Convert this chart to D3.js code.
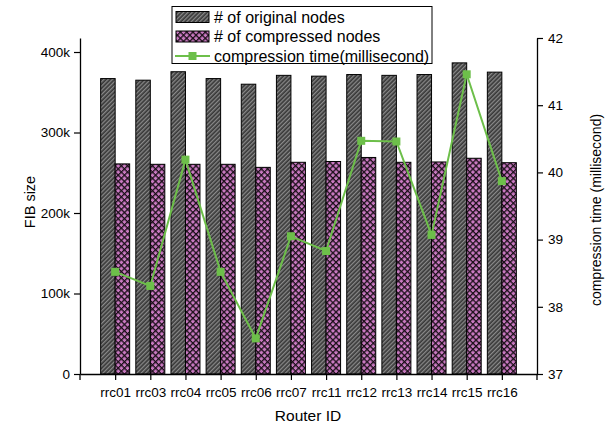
<!DOCTYPE html>
<html>
<head>
<meta charset="utf-8">
<script src="https://cdn.jsdelivr.net/npm/d3@7"></script>
<style>
  html, body { margin: 0; padding: 0; background: #fff; }
  svg { display: block; font-family: "Liberation Sans", Arial, sans-serif; }
</style>
</head>
<body>
<svg id="chart" width="606" height="428"></svg>
<script>
// Routers and measurements
const routers = ["rrc01", "rrc03", "rrc04", "rrc05", "rrc06", "rrc07", "rrc11", "rrc12", "rrc13", "rrc14", "rrc15", "rrc16"];
const originalNodes = [367000, 365000, 375500, 367000, 360000, 371000, 370000, 372000, 371000, 372000, 386500, 375000];
const compressedNodes = [261000, 260500, 260500, 260500, 256700, 263000, 264000, 269000, 263000, 263400, 268000, 262500];
const compressionTime = [38.52, 38.31, 40.19, 38.52, 37.53, 39.05, 38.83, 40.47, 40.46, 39.07, 41.46, 39.87];
const leftTicks = [0, 100000, 200000, 300000, 400000];
const rightTicks = [37, 38, 39, 40, 41, 42];

const svg = d3.select("#chart");
const plot = { left: 80, right: 537, top: 38, bottom: 374 };

// x: router position 1..12 on a 0..13 range
const x = d3.scaleLinear().domain([0, routers.length + 1]).range([plot.left, plot.right]);
const yL = d3.scaleLinear().domain([0, 417400]).range([plot.bottom, plot.top]);
const yR = d3.scaleLinear().domain([37, 42]).range([plot.bottom, plot.top]);
const barW = 14.5;

// hatch patterns
const defs = svg.append("defs");
const pg = defs.append("pattern").attr("id", "hatchGray")
  .attr("patternUnits", "userSpaceOnUse").attr("width", 3).attr("height", 3)
  .attr("patternTransform", "rotate(45)");
pg.append("rect").attr("width", 3).attr("height", 3).attr("fill", "#383838");
pg.append("rect").attr("width", 1.3).attr("height", 3).attr("fill", "#8a8a8a");

const pp = defs.append("pattern").attr("id", "hatchPink")
  .attr("patternUnits", "userSpaceOnUse").attr("width", 4.4).attr("height", 4.4)
  .attr("patternTransform", "rotate(45)");
pp.append("rect").attr("width", 4.4).attr("height", 4.4).attr("fill", "#c979c1");
pp.append("rect").attr("width", 4.4).attr("height", 1.3).attr("fill", "#1a0f18");
pp.append("rect").attr("width", 1.3).attr("height", 4.4).attr("fill", "#1a0f18");

// bars
const gBars = svg.append("g");
gBars.selectAll("rect.orig").data(originalNodes).join("rect")
  .attr("class", "orig")
  .attr("x", (d, i) => x(i + 1) - barW)
  .attr("y", d => yL(d))
  .attr("width", barW)
  .attr("height", d => yL(0) - yL(d))
  .attr("fill", "url(#hatchGray)")
  .attr("stroke", "#000").attr("stroke-width", 1);
gBars.selectAll("rect.comp").data(compressedNodes).join("rect")
  .attr("class", "comp")
  .attr("x", (d, i) => x(i + 1))
  .attr("y", d => yL(d))
  .attr("width", barW)
  .attr("height", d => yL(0) - yL(d))
  .attr("fill", "url(#hatchPink)")
  .attr("stroke", "#000").attr("stroke-width", 1);

// axes
const axisColor = "#000";
const fmtK = d => d === 0 ? "0" : (d / 1000) + "k";

const gLeft = svg.append("g").attr("transform", `translate(${plot.left},0)`);
gLeft.call(d3.axisLeft(yL).tickValues(d3.range(50000, 417400, 100000)).tickSize(3).tickFormat(""));
gLeft.call(d3.axisLeft(yL).tickValues(leftTicks).tickSize(6).tickSizeOuter(0).tickFormat(fmtK));

const gRight = svg.append("g").attr("transform", `translate(${plot.right},0)`);
gRight.call(d3.axisRight(yR).tickValues(d3.range(37.5, 42, 1)).tickSize(3).tickFormat(""));
gRight.call(d3.axisRight(yR).tickValues(rightTicks).tickSize(6).tickSizeOuter(0).tickFormat(d3.format("d")));

const gBottom = svg.append("g").attr("transform", `translate(0,${plot.bottom})`);
gBottom.call(d3.axisBottom(x).tickValues(d3.range(0.5, routers.length + 1, 1)).tickSize(4).tickFormat(""));
gBottom.call(d3.axisBottom(x).tickValues(d3.range(1, routers.length + 1)).tickSize(6).tickSizeOuter(0)
  .tickFormat(d => routers[d - 1]));

[gLeft, gRight, gBottom].forEach(g => {
  g.selectAll(".domain").attr("stroke", axisColor).attr("stroke-width", 1.3);
  g.selectAll(".tick line").attr("stroke", axisColor).attr("stroke-width", 1.2);
  g.selectAll("text").attr("font-size", 13.5).attr("fill", "#000")
    .attr("font-family", "'Liberation Sans', Arial, sans-serif");
});
gLeft.selectAll("text").attr("dx", "-1");
gRight.selectAll("text").attr("dx", "2");
gBottom.selectAll("text").attr("dy", "1.05em");

// extend the vertical axes slightly below the baseline
svg.append("line").attr("x1", plot.left).attr("x2", plot.left).attr("y1", plot.bottom).attr("y2", plot.bottom + 6)
  .attr("stroke", axisColor).attr("stroke-width", 1.3);
svg.append("line").attr("x1", plot.right).attr("x2", plot.right).attr("y1", plot.bottom).attr("y2", plot.bottom + 6)
  .attr("stroke", axisColor).attr("stroke-width", 1.3);

// compression time line
const green = "#6dbf4a";
const line = d3.line().x((d, i) => x(i + 1)).y(d => yR(d));
svg.append("path").datum(compressionTime)
  .attr("d", line).attr("fill", "none").attr("stroke", green).attr("stroke-width", 2);
svg.selectAll("rect.pt").data(compressionTime).join("rect")
  .attr("class", "pt")
  .attr("x", (d, i) => x(i + 1) - 4)
  .attr("y", d => yR(d) - 4)
  .attr("width", 8).attr("height", 8)
  .attr("fill", green);

// axis titles
svg.append("text").attr("transform", `translate(35,202) rotate(-90)`)
  .attr("text-anchor", "middle").attr("font-size", 14.5).text("FIB size");
svg.append("text").attr("transform", `translate(601,210) rotate(-90)`)
  .attr("text-anchor", "middle").attr("font-size", 14).text("compression time (millisecond)");
svg.append("text").attr("x", 308).attr("y", 421)
  .attr("text-anchor", "middle").attr("font-size", 15.5).text("Router ID");

// legend
const lg = svg.append("g");
lg.append("rect").attr("x", 172).attr("y", 6.5).attr("width", 260).attr("height", 57)
  .attr("fill", "#fff").attr("stroke", "#000").attr("stroke-width", 1);
const legendItems = [
  { label: "# of original nodes", fill: "url(#hatchGray)" },
  { label: "# of compressed nodes", fill: "url(#hatchPink)" },
  { label: "compression time(millisecond)", line: true }
];
legendItems.forEach((it, i) => {
  const cy = 17 + i * 19.5;
  if (it.line) {
    lg.append("line").attr("x1", 175).attr("x2", 210).attr("y1", cy).attr("y2", cy)
      .attr("stroke", green).attr("stroke-width", 2);
    lg.append("rect").attr("x", 188.5).attr("y", cy - 4).attr("width", 8).attr("height", 8).attr("fill", green);
  } else {
    lg.append("rect").attr("x", 176).attr("y", cy - 5.5).attr("width", 33).attr("height", 11)
      .attr("fill", it.fill).attr("stroke", "#000").attr("stroke-width", 1);
  }
  lg.append("text").attr("x", 214).attr("y", cy + 5.5).attr("font-size", 16).text(it.label);
});
</script>
</body>
</html>
